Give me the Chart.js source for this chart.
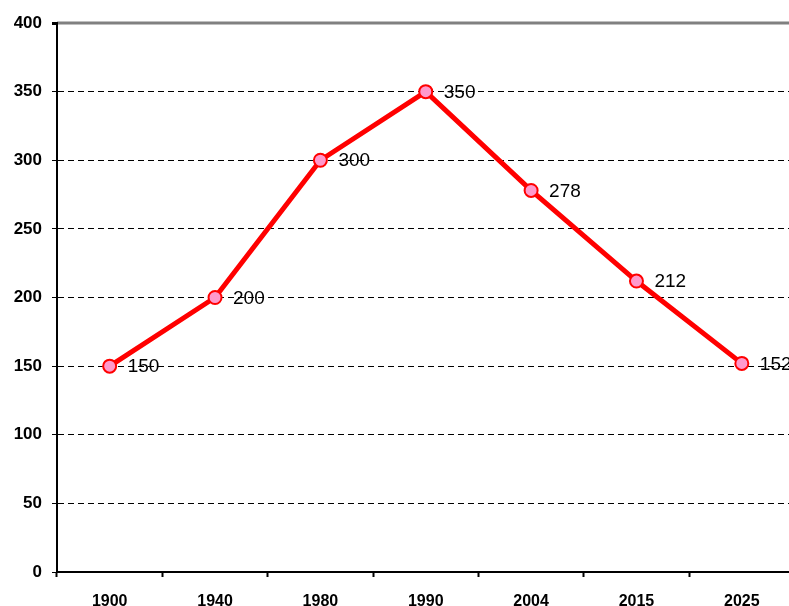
<!DOCTYPE html>
<html>
<head>
<meta charset="utf-8">
<script src="https://cdn.jsdelivr.net/npm/chart.js@4"></script>
<style>
html,body{margin:0;padding:0;overflow:hidden;background:#fff;width:789px;height:606px;}
#wrap{position:absolute;left:0;top:0;width:803px;height:606px;}
</style>
</head>
<body>
<div id="wrap"><canvas id="c" width="803" height="606"></canvas></div>
<script>
const categories = ["1900", "1940", "1980", "1990", "2004", "2015", "2025"];
const values = [150, 200, 300, 350, 278, 212, 152];
const yTicks = [0, 50, 100, 150, 200, 250, 300, 350, 400];

const topLine = {
  id: 'topLine',
  beforeDatasetsDraw(chart) {
    const {ctx, chartArea, scales} = chart;
    const y = scales.y.getPixelForValue(400);
    ctx.save();
    ctx.strokeStyle = '#808080';
    ctx.lineWidth = 3;
    ctx.beginPath();
    ctx.moveTo(chartArea.left, y);
    ctx.lineTo(chartArea.right + 5, y);
    ctx.stroke();
    ctx.fillStyle = '#000';
    ctx.fillRect(chartArea.left - 5, y - 1, 6, 3);
    ctx.restore();
  }
};

const valueLabels = {
  id: 'valueLabels',
  afterDatasetsDraw(chart) {
    const {ctx} = chart;
    const meta = chart.getDatasetMeta(0);
    ctx.save();
    ctx.font = '19px "Liberation Sans", Arial, sans-serif';
    ctx.fillStyle = '#000';
    ctx.textAlign = 'left';
    ctx.textBaseline = 'middle';
    meta.data.forEach((pt, i) => {
      ctx.fillText(String(values[i]), pt.x + 18, pt.y + 1);
    });
    ctx.restore();
  }
};

Chart.defaults.font.family = '"Liberation Sans", Arial, sans-serif';
Chart.defaults.color = '#000';

new Chart(document.getElementById('c'), {
  type: 'line',
  data: {
    labels: categories,
    datasets: [{
      data: values,
      borderColor: '#ff0000',
      borderWidth: 5,
      tension: 0,
      pointRadius: 6.5,
      pointBorderWidth: 2,
      pointBackgroundColor: '#ff99cc',
      pointBorderColor: '#ff0000',
      fill: false
    }]
  },
  options: {
    responsive: false,
    animation: false,
    events: [],
    layout: {padding: {top: 23, right: 1, bottom: 0, left: 0}},
    plugins: {legend: {display: false}, tooltip: {enabled: false}},
    scales: {
      x: {
        type: 'category',
        offset: true,
        afterFit(s) { s.height = 34; },
        grid: {
          offset: true,
          drawOnChartArea: false,
          drawTicks: true,
          tickLength: 5,
          tickWidth: 2,
          tickColor: '#000'
        },
        border: {display: true, color: '#000', width: 2},
        ticks: {
          font: {size: 16, weight: 'bold'},
          padding: 15,
          maxRotation: 0,
          autoSkip: false
        }
      },
      y: {
        min: 0,
        max: 400,
        afterFit(s) { s.width = 57; },
        afterBuildTicks(s) { s.ticks = yTicks.map(v => ({value: v})); },
        grid: {
          color: (c) => (c.tick && (c.tick.value === 400 || c.tick.value === 0)) ? 'rgba(0,0,0,0)' : '#000',
          lineWidth: 1,
          tickLength: 5,
          tickColor: '#000',
          tickWidth: 1
        },
        border: {display: true, color: '#000', width: 2, dash: [6, 4]},
        ticks: {
          font: {size: 17, weight: 'bold'},
          padding: 10,
          stepSize: 50
        }
      }
    }
  },
  plugins: [topLine, valueLabels]
});
</script>
</body>
</html>
